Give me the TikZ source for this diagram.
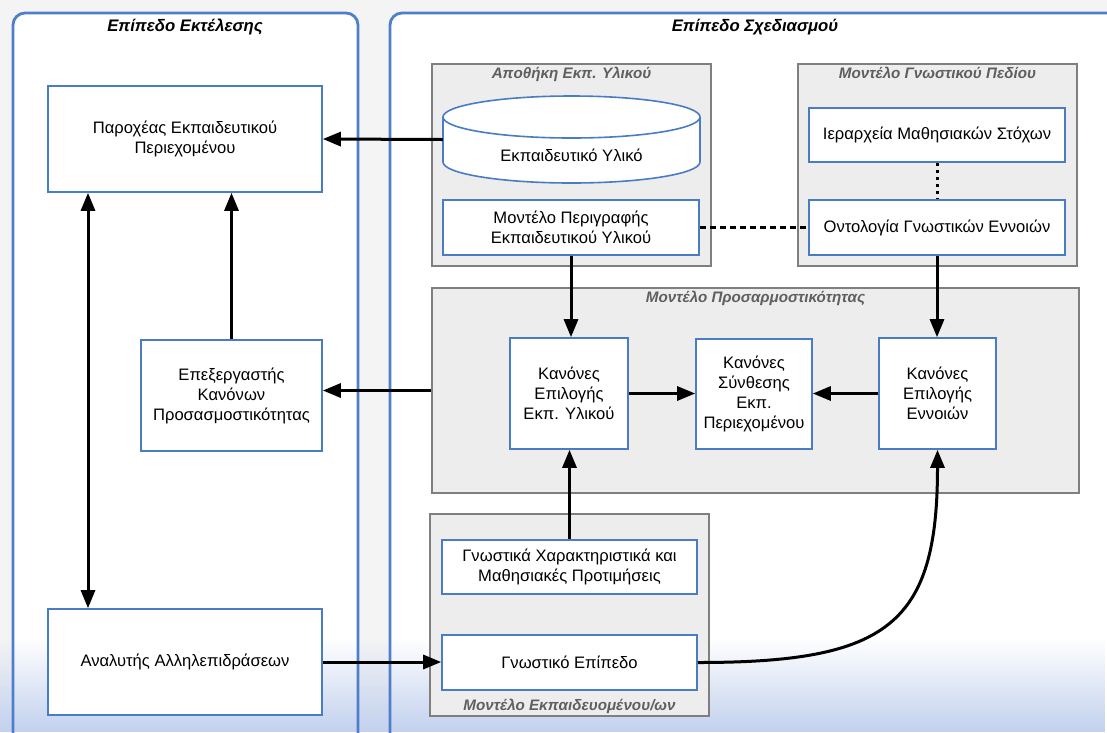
\documentclass[tikz,border=0pt]{standalone}
\usepackage{fontspec}
\setmainfont{Liberation Sans}
\usetikzlibrary{arrows.meta,fadings,calc}

\definecolor{panelblue}{HTML}{4F7FCB}
\definecolor{boxblue}{HTML}{4A7CC6}
\definecolor{grayedge}{HTML}{7F7F7F}
\definecolor{grayfill}{HTML}{EDEDED}
\definecolor{graytitle}{HTML}{5F5F5F}
\definecolor{bottomblue}{HTML}{C2D1EE}
\definecolor{backdrop}{HTML}{F4F4F4}

\tikzset{
  panel/.style={draw=panelblue, line width=2.8pt, rounded corners=12pt},
  paneltitle/.style={font=\fontsize{16.7}{20}\selectfont\bfseries\itshape, inner sep=0pt},
  groupbox/.style={draw=grayedge, fill=grayfill, line width=1.8pt, inner sep=0pt},
  grouptitle/.style={font=\fontsize{15.2}{18}\selectfont\bfseries\itshape, text=graytitle, inner sep=0pt},
  wbox/.style={draw=boxblue, fill=white, line width=1.6pt, align=center, inner sep=2pt,
    font=\fontsize{16.6}{20}\selectfont},
  arr/.style={line width=3pt, -{Triangle[length=18pt,width=14pt]}},
  dblarr/.style={line width=3pt, {Triangle[length=18pt,width=14pt]}-{Triangle[length=18pt,width=14pt]}},
  link/.style={line width=2.8pt, dash pattern=on 6pt off 4pt},
  dotlink/.style={line width=3pt, dash pattern=on 3.5pt off 3.5pt},
}

\begin{document}
\begin{tikzpicture}[x=1pt,y=-1pt]
  % canvas and bottom tint
  \fill[backdrop] (0,0) rectangle (1107,732);
  \useasboundingbox (0,0) rectangle (1107,732);
  \fill[white, rounded corners=12pt] (13,13) rectangle (358,745);
  \fill[white, rounded corners=12pt] (390,13) rectangle (1125,745);
  \fill[bottomblue, path fading=north] (0,638) rectangle (1107,732);

  % two levels
  \draw[panel] (13,13) rectangle (358,745);
  \draw[panel] (390,13) rectangle (1125,745);
  \node[paneltitle] (tleft) at (185,27) {Επίπεδο Εκτέλεσης};
  \node[paneltitle] (tright) at (755,27) {Επίπεδο Σχεδιασμού};

  % execution level
  \node[wbox, minimum width=274, minimum height=106] (par) at (185,139)
    {Παροχέας Εκπαιδευτικού\\Περιεχομένου};
  \node[wbox, minimum width=181, minimum height=111] (epe) at (231.5,395.5)
    {Επεξεργαστής\\Κανόνων\\Προσασμοστικότητας};
  \node[wbox, minimum width=274, minimum height=106] (ana) at (185,662)
    {Αναλυτής Αλληλεπιδράσεων};

  % material repository
  \node[groupbox, minimum width=279, minimum height=202] (apo) at (571.5,165) {};
  \node[grouptitle] (apot) at (571.5,74) {Αποθήκη Εκπ. Υλικού};
  \draw[boxblue, fill=white, line width=1.6pt]
    (443,117) arc[start angle=180, end angle=360, x radius=128.5, y radius=21]
    -- (700,162) arc[start angle=0, end angle=180, x radius=128.5, y radius=21] -- cycle;
  \draw[boxblue, line width=1.6pt]
    (443,117) arc[start angle=180, end angle=0, x radius=128.5, y radius=21];
  \node[minimum width=257, minimum height=87, inner sep=0pt] (cyl) at (571.5,139.5) {};
  \node[font=\fontsize{16.6}{20}\selectfont, inner sep=0pt] (cylt) at (571.5,155) {Εκπαιδευτικό Υλικό};
  \node[wbox, minimum width=256, minimum height=55] (mpe) at (571,227.5)
    {Μοντέλο Περιγραφής\\Εκπαιδευτικού Υλικού};

  % domain model
  \node[groupbox, minimum width=279, minimum height=202] (mgp) at (937.5,165) {};
  \node[grouptitle] (mgpt) at (937.5,73) {Μοντέλο Γνωστικού Πεδίου};
  \node[wbox, minimum width=256, minimum height=54] (ier) at (937,135)
    {Ιεραρχεία Μαθησιακών Στόχων};
  \node[wbox, minimum width=256, minimum height=55] (ont) at (937,227.5)
    {Οντολογία Γνωστικών Εννοιών};

  % adaptivity model
  \node[groupbox, minimum width=647, minimum height=205] (mpr) at (755.5,390.5) {};
  \node[grouptitle] (mprt) at (755.5,298) {Μοντέλο Προσαρμοστικότητας};
  \node[wbox, minimum width=118, minimum height=111] (k1) at (569,393.5)
    {Κανόνες\\Επιλογής\\Εκπ. Υλικού};
  \node[wbox, minimum width=116, minimum height=110] (k2) at (754,394)
    {Κανόνες\\Σύνθεσης\\Εκπ.\\Περιεχομένου};
  \node[wbox, minimum width=117, minimum height=111] (k3) at (937.5,393.5)
    {Κανόνες\\Επιλογής\\Εννοιών};

  % learner model
  \node[groupbox, minimum width=279, minimum height=202] (mek) at (569.5,615) {};
  \node[grouptitle] (mekt) at (569.5,706) {Μοντέλο Εκπαιδευομένου/ων};
  \node[wbox, minimum width=255, minimum height=54] (gx) at (569.5,567)
    {Γνωστικά Χαρακτηριστικά και\\Μαθησιακές Προτιμήσεις};
  \node[wbox, minimum width=255, minimum height=55] (gep) at (569.5,662.5)
    {Γνωστικό Επίπεδο};

  % connectors
  \coordinate (dx) at (88,0);
  \draw[arr] (cyl.west) -- (par.east);
  \draw[arr] (epe.north) -- (epe.north |- par.south);
  \draw[dblarr] (par.south -| dx) -- (ana.north -| dx);
  \draw[arr] (mpr.west) -- (mpr.west -| epe.east);
  \draw[arr] (ana.east) -- (ana.east -| gep.west);
  \draw[link] (mpe.east) -- (ont.west);
  \draw[dotlink] (ier.south) -- (ont.north);
  \draw[arr] (mpe.south) -- (mpe.south |- k1.north);
  \draw[arr] (ont.south) -- (ont.south |- k3.north);
  \draw[arr] (k1.east) -- (k1.east -| k2.west);
  \draw[arr] (k3.west) -- (k3.west -| k2.east);
  \draw[arr] (gx.north) -- (gx.north |- k1.south);
  \draw[arr] (gep.east) .. controls +(190,0) and +(0,175) .. (k3.south);
\end{tikzpicture}
\end{document}
